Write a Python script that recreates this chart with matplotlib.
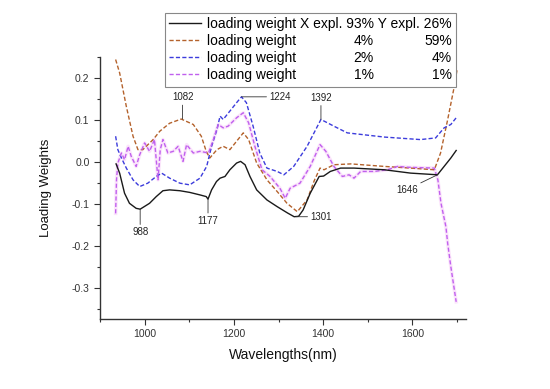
import matplotlib.pyplot as plt
import numpy as np

plt.rcParams['font.family'] = ['Liberation Sans', 'DejaVu Sans']

# loading weight curves
x_lw1 = [936, 944, 955, 966, 981, 990, 1011, 1026, 1041, 1056, 1079, 1101, 1124, 1138, 1142, 1150,
         1161, 1169, 1180, 1191, 1206, 1215, 1225, 1236, 1251, 1274, 1297, 1320, 1335, 1345, 1355,
         1371, 1391, 1401, 1416, 1439, 1469, 1537, 1596, 1656, 1671, 1686, 1698]
y_lw1 = [-0.005, -0.027, -0.075, -0.099, -0.111, -0.113, -0.099, -0.083, -0.069, -0.067, -0.069,
         -0.073, -0.079, -0.083, -0.089, -0.067, -0.047, -0.039, -0.035, -0.019, -0.003, 0.001,
         -0.007, -0.035, -0.067, -0.091, -0.107, -0.122, -0.131, -0.130, -0.115, -0.075, -0.035,
         -0.034, -0.023, -0.015, -0.015, -0.019, -0.027, -0.031, -0.011, 0.009, 0.027]

x_lw2 = [935, 944, 959, 974, 985, 996, 1019, 1034, 1056, 1082, 1109, 1127, 1138, 1146, 1162, 1176,
         1191, 1206, 1221, 1233, 1251, 1274, 1297, 1319, 1342, 1364, 1380, 1393, 1402, 1424, 1462,
         1537, 1596, 1649, 1663, 1679, 1694, 1700]
y_lw2 = [0.244, 0.212, 0.132, 0.061, 0.029, 0.029, 0.053, 0.073, 0.092, 0.102, 0.089, 0.061, 0.025,
         0.009, 0.029, 0.037, 0.029, 0.049, 0.069, 0.053, -0.003, -0.043, -0.071, -0.099, -0.119,
         -0.091, -0.045, -0.015, -0.019, -0.007, -0.005, -0.011, -0.015, -0.019, 0.021, 0.101,
         0.181, 0.22]

x_lw3 = [935, 940, 948, 959, 974, 989, 1007, 1026, 1038, 1056, 1079, 1101, 1124, 1139, 1150, 1162,
         1169, 1176, 1191, 1206, 1217, 1228, 1243, 1258, 1274, 1297, 1312, 1334, 1364, 1395, 1424,
         1454, 1537, 1618, 1652, 1671, 1686, 1698]
y_lw3 = [0.061, 0.029, 0.009, -0.015, -0.043, -0.059, -0.051, -0.035, -0.027, -0.039, -0.051,
         -0.055, -0.039, -0.011, 0.037, 0.077, 0.109, 0.101, 0.121, 0.141, 0.155, 0.141, 0.085,
         0.021, -0.015, -0.023, -0.031, -0.011, 0.037, 0.101, 0.085, 0.069, 0.059, 0.053, 0.057,
         0.081, 0.089, 0.105]

x_lw4 = [935, 937, 940, 948, 955, 963, 970, 981, 989, 1000, 1011, 1022, 1030, 1035, 1041, 1052,
         1064, 1075, 1086, 1094, 1109, 1124, 1143, 1154, 1165, 1176, 1187, 1206, 1221, 1233, 1247,
         1263, 1281, 1303, 1315, 1326, 1348, 1371, 1393, 1406, 1424, 1443, 1458, 1469, 1484, 1514,
         1544, 1567, 1589, 1649, 1657, 1664, 1675, 1679, 1686, 1694, 1698]
y_lw4 = [-0.123, -0.043, -0.003, 0.021, 0.005, 0.037, 0.013, -0.011, 0.017, 0.045, 0.025, 0.053,
         -0.043, 0.029, 0.053, 0.021, 0.025, 0.037, 0.001, 0.041, 0.021, 0.025, 0.021, 0.053, 0.089,
         0.081, 0.085, 0.105, 0.117, 0.093, 0.037, -0.019, -0.035, -0.063, -0.087, -0.063, -0.051,
         -0.011, 0.041, 0.025, -0.011, -0.035, -0.031, -0.039, -0.023, -0.023, -0.019, -0.011,
         -0.013, -0.015, -0.043, -0.099, -0.155, -0.195, -0.25, -0.306, -0.334]

# explained variance columns of the legend (first row is in the label itself)
x_expl = ['4%', '2%', '1%']
y_expl = ['59%', '4%', '1%']

# peak labels: (label, wavelength on curve, value on curve)
peaks = [('988', 990, -0.113), ('1082', 1085, 0.102), ('1177', 1142, -0.089),
         ('1224', 1217, 0.155), ('1301', 1340, -0.131), ('1392', 1395, 0.101),
         ('1646', 1656, -0.031)]

fig = plt.figure(figsize=(5.5, 3.89), dpi=100)
ax = fig.add_axes([100/550, 1-319/389, 366/550, 262/389])

ax.plot(x_lw4, y_lw4, color='#fbe4fb', linewidth=2.5, zorder=1)  # faint pink halo
l1, = ax.plot(x_lw1, y_lw1, color='#1a1a1a', linewidth=1.0, zorder=3)
l2, = ax.plot(x_lw2, y_lw2, color='#b4622c', linewidth=1.0, dashes=(3, 1.6), zorder=2)
l3, = ax.plot(x_lw3, y_lw3, color='#3c3cdc', linewidth=1.0, dashes=(3, 1.6), zorder=2)
l4, = ax.plot(x_lw4, y_lw4, color='#c060ee', linewidth=1.0, dashes=(3, 1.6), zorder=2)

# annotations with leader lines
offs = {'988': (0, -13), '1082': (0, 12), '1177': (0, -12), '1224': (20, 0),
        '1301': (10, 0), '1392': (0, 12), '1646': (-14, -7)}
for lab, px, py in peaks:
    dx, dy = offs[lab]
    if dx > 0:
        ha, va = 'left', 'center'
    elif dx < 0:
        ha, va = 'right', 'top'
    else:
        ha, va = 'center', ('bottom' if dy > 0 else 'top')
    ax.annotate(lab, xy=(px, py), xytext=(dx, dy), textcoords='offset points',
                fontsize=7, ha=ha, va=va, color='#222222',
                arrowprops=dict(arrowstyle='-', color='#333333', linewidth=0.6,
                                shrinkA=0, shrinkB=0))

ax.set_xlim(900, 1720)
ax.set_ylim(-0.375, 0.25)
ax.set_xticks([1000, 1200, 1400, 1600])
ax.set_xticks(np.arange(900, 1701, 100), minor=True)
ax.set_yticks([-0.3, -0.2, -0.1, 0.0, 0.1, 0.2])
ax.set_yticks(np.arange(-0.35, 0.251, 0.05), minor=True)
ax.set_yticklabels(['-0.3', '-0.2', '-0.1', '0.0', '0.1', '0.2'])
ax.tick_params(which='major', length=4, width=0.8, labelsize=7.5, colors='#333333')
ax.tick_params(which='minor', length=2.5, width=0.8, colors='#333333')
for s in ['top', 'right']:
    ax.spines[s].set_visible(False)
for s in ['left', 'bottom']:
    ax.spines[s].set_color('#333333')
    ax.spines[s].set_linewidth(1.0)

fig.text(46/550, 1-188/389, 'Loading Weights', rotation=90, fontsize=9.5,
         ha='center', va='center', color='#111111')
fig.text(283/550, 1-355/389, 'Wavelengths(nm)', fontsize=10,
         ha='center', va='center', color='#111111')

labels = ['loading weight X expl. 93% Y expl. 26%', 'loading weight', 'loading weight', 'loading weight']
leg = ax.legend([l1, l2, l3, l4], labels, loc='upper left',
                bbox_to_anchor=(165/550, 1-13/389), bbox_transform=fig.transFigure,
                fontsize=10, handlelength=2.3, handletextpad=0.45, labelspacing=0.22,
                borderpad=0.3, borderaxespad=0, fancybox=False, framealpha=1,
                edgecolor='#888888')
leg.get_frame().set_linewidth(0.8)

# put the percentage columns on the other legend rows
fig.canvas.draw()
inv = fig.transFigure.inverted()
texts = leg.get_texts()
right = inv.transform((texts[0].get_window_extent().x1, 0))[0]
for i, t in enumerate(texts[1:]):
    bb = t.get_window_extent()
    yc = inv.transform((0, (bb.y0 + bb.y1) / 2))[1]
    fig.text(right - 78/550, yc, x_expl[i], fontsize=10, ha='right', va='center', zorder=10)
    fig.text(right, yc, y_expl[i], fontsize=10, ha='right', va='center', zorder=10)

fig.savefig('out.png', dpi=100)
